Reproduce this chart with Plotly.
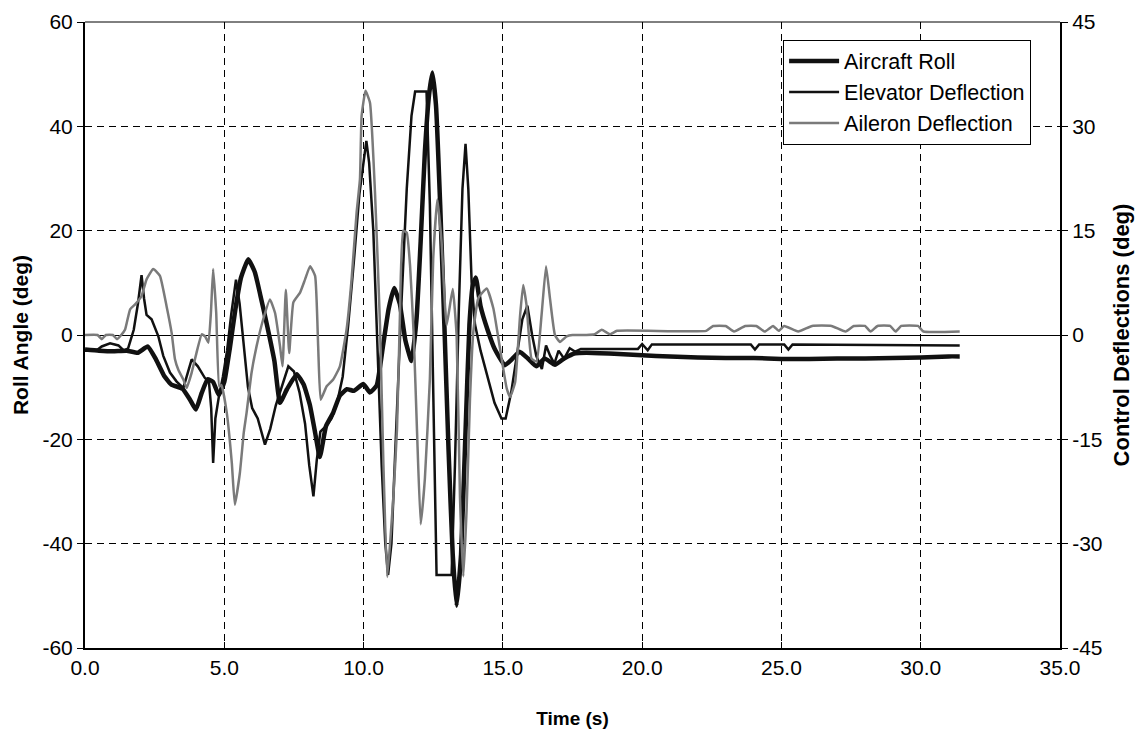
import plotly.graph_objects as go

# ---- Aircraft roll angle (deg, left axis) ----
roll_time = [0.0, 0.5, 1.0, 1.5, 1.9, 2.25, 2.55, 2.85, 3.1, 3.5, 3.77, 3.98, 4.19, 4.4, 4.6,
             4.8, 5.0, 5.2, 5.4, 5.6, 5.86, 6.1, 6.3, 6.55, 6.8, 7.0, 7.25, 7.6, 7.85, 8.08,
             8.26, 8.43, 8.65, 8.9, 9.15, 9.4, 9.65, 9.99, 10.23, 10.47, 10.7, 10.9, 11.1, 11.3,
             11.5, 11.72, 11.9, 12.05, 12.2, 12.35, 12.47, 12.6, 12.75, 12.9, 13.05, 13.2, 13.34,
             13.5, 13.65, 13.8, 13.92, 14.03, 14.2, 14.45, 14.7, 15.07, 15.35, 15.6, 15.9, 16.2,
             16.5, 16.87, 17.2, 17.6, 18.0, 19.0, 20.0, 21.0, 22.0, 23.0, 24.0, 25.0, 26.0, 27.0,
             28.0, 29.0, 30.0, 31.0, 31.4]
roll_deg = [-2.8, -3.0, -3.1, -3.0, -3.4, -2.2, -4.7, -7.9, -9.5, -10.3, -12.4, -14.3, -11.1, -8.5, -9.0,
            -11.5, -9.0, -2.5, 5.0, 11.0, 14.5, 12.0, 7.5, 1.5, -5.0, -13.0, -10.4, -7.5, -9.5, -13.6,
            -18.7, -23.4, -17.5, -15.0, -11.6, -10.4, -10.7, -9.4, -11.0, -9.7, -2.0, 5.0, 9.0, 6.0,
            -1.0, -5.0, 3.0, 18.0, 35.0, 46.0, 50.3, 44.0, 25.0, 2.0, -22.0, -42.0, -51.9,
            -42.0, -20.0, 2.0, 9.5, 11.0, 5.5, 1.0, -2.6, -5.8, -4.5, -3.2, -4.5, -6.0,
            -4.5, -5.7, -4.5, -3.5, -3.4, -3.6, -3.9, -4.1, -4.3, -4.4, -4.4, -4.6, -4.6, -4.5,
            -4.5, -4.4, -4.3, -4.1, -4.1]

# ---- Elevator deflection (deg, right axis) ----
elev_time = [0.0, 0.4, 0.6, 0.9, 1.2, 1.4, 1.55, 1.75, 1.9, 2.03, 2.12, 2.21, 2.39, 2.63, 2.81,
             3.05, 3.29, 3.53, 3.83, 4.05, 4.3, 4.45, 4.53, 4.6, 4.68, 4.8, 4.95, 5.1, 5.25, 5.42,
             5.55, 5.7, 5.85, 6.0, 6.2, 6.46, 6.65, 6.85, 7.05, 7.3, 7.5, 7.7, 7.9, 8.05, 8.2,
             8.32, 8.45, 8.65, 8.85, 9.05, 9.25, 9.45, 9.65, 9.85, 10.1, 10.2, 10.35, 10.5, 10.65,
             10.78, 10.88, 11.0, 11.15, 11.35, 11.55, 11.72, 11.85, 12.26, 12.38, 12.5, 12.58,
             12.62, 13.16, 13.28, 13.42, 13.55, 13.66, 13.76, 13.88, 14.0, 14.2, 14.45, 14.7,
             14.95, 15.1, 15.3, 15.5, 15.7, 15.88, 16.05, 16.2, 16.4, 16.55, 16.7, 16.85, 17.0,
             17.2, 17.4, 17.6, 17.8, 19.85, 20.0, 20.2, 20.35, 23.9, 24.05, 24.2, 25.1, 25.25,
             25.4, 31.4]
elev_deg = [-2.25, -2.25, -1.65, -1.2, -1.5, -2.25, -1.9, 0.75, 4.5, 8.6, 5.25, 2.9, 2.25, -0.15, -3.0,
            -5.4, -6.7, -7.6, -3.5, -4.5, -6.15, -6.75, -10.5, -18.4, -12.0, -9.0, -6.0, -2.25, 3.0, 7.95,
            4.5, -1.5, -7.5, -10.5, -12.0, -15.75, -13.5, -10.1, -7.5, -4.5, -5.25, -8.25, -12.75, -18.75, -23.2,
            -18.0, -13.9, -13.1, -12.0, -9.75, -6.0, 1.5, 10.5, 20.25, 27.9, 24.75, 15.0, -1.5, -18.75,
            -30.0, -34.5, -30.0, -15.0, 3.75, 21.0, 31.5, 35.0, 35.0, 18.75, -7.5, -26.25,
            -34.5, -34.5, -18.75, 3.75, 21.0, 27.5, 21.0, 7.5, 1.5, -2.25, -6.0, -9.75,
            -12.0, -12.0, -8.25, -3.0, 2.25, 4.2, 0.0, -3.0, -4.9, -1.5, -3.0, -4.1, -2.25,
            -3.4, -1.9, -2.4, -2.0, -2.0, -1.3, -2.2, -1.35, -1.35, -2.1, -1.35, -1.35, -2.1,
            -1.35, -1.5]

# ---- Aileron deflection (deg, right axis) ----
ail_time = [0.0, 0.45, 0.6, 0.75, 1.0, 1.15, 1.3, 1.44, 1.62, 1.8, 2.03, 2.21, 2.45, 2.69, 2.93,
            3.11, 3.23, 3.35, 3.53, 3.65, 3.83, 4.0, 4.19, 4.31, 4.43, 4.52, 4.6, 4.71, 4.82, 4.9,
            5.09, 5.27, 5.38, 5.56, 5.7, 5.8, 5.98, 6.16, 6.4, 6.64, 6.82, 7.0, 7.09, 7.21, 7.33,
            7.48, 7.72, 7.9, 8.08, 8.26, 8.37, 8.46, 8.67, 8.91, 9.15, 9.39, 9.57, 9.75, 9.87,
            9.93, 10.07, 10.23, 10.41, 10.59, 10.71, 10.85, 11.07, 11.2, 11.3, 11.42, 11.55, 11.67,
            11.8, 11.92, 12.05, 12.2, 12.38, 12.5, 12.65, 12.8, 12.98, 13.2, 13.34, 13.46, 13.58,
            13.7, 13.82, 13.94, 14.12, 14.42, 14.66, 14.9, 15.14, 15.26, 15.44, 15.62, 15.73,
            15.85, 16.03, 16.21, 16.39, 16.55, 16.69, 16.87, 17.05, 17.29, 17.5, 18.0, 18.3,
            18.55, 18.85, 19.1, 22.3, 22.55, 23.0, 23.3, 23.7, 24.1, 24.4, 24.7, 24.9, 25.1,
            25.6, 26.1, 26.8, 27.3, 27.6, 28.0, 28.2, 28.45, 28.9, 29.1, 29.3, 29.9, 30.1, 31.4]
ail_deg = [0.0, 0.0, -0.6, 0.0, 0.0, -0.6, 0.0, 0.8, 3.7, 4.4, 5.6, 8.0, 9.5, 8.5, 4.1,
           0.3, -3.5, -5.0, -6.4, -7.6, -5.4, -2.6, 0.1, -0.2, -1.1, 3.2, 9.5, 3.2, -7.4, -7.2,
           -11.2, -18.4, -24.4, -19.8, -14.0, -11.2, -5.4, -1.6, 2.3, 5.1, 3.2, -1.6, -4.5, 6.5, -2.6,
           4.7, 6.1, 8.0, 9.9, 8.5, -1.6, -9.3, -7.4, -6.4, -4.5, 0.8, 8.0, 17.6, 22.4,
           31.5, 35.1, 33.4, 20.5, 1.4, -18.3, -34.8, -23.2, -13.5, 2.0, 15.0, 14.7, 9.9,
           0.0, -14.0, -27.2, -20.7, -6.3, 11.0, 19.5, 13.4, 1.4, 6.6, 0.0, -23.2, -34.7,
           -25.0, -9.2, 0.5, 5.3, 6.7, 3.8, -2.0, -7.7, -8.9, -6.8, 2.9, 7.2,
           4.3, -3.4, -3.8, 2.9, 9.9, 5.3, 0.0, -1.0, -0.2, 0.0, 0.0, 0.1,
           0.75, 0.1, 0.6, 0.6, 1.3, 1.3, 0.5, 1.3, 1.3, 0.5, 1.3, 0.6, 1.3,
           0.5, 1.3, 1.3, 0.5, 1.3, 1.3, 0.5, 1.3, 1.3, 0.5, 1.3, 1.3, 0.5, 0.5]

# ---- Axis ticks ----
time_ticks = [0, 5, 10, 15, 20, 25, 30, 35]
time_labels = ["0.0", "5.0", "10.0", "15.0", "20.0", "25.0", "30.0", "35.0"]
roll_ticks = [-60, -40, -20, 0, 20, 40, 60]
roll_labels = ["-60", "-40", "-20", "0", "20", "40", "60"]
defl_ticks = [-45, -30, -15, 0, 15, 30, 45]
defl_labels = ["-45", "-30", "-15", "0", "15", "30", "45"]

assert len(roll_time) == len(roll_deg)
assert len(elev_time) == len(elev_deg)
assert len(ail_time) == len(ail_deg)

FONT = "Liberation Sans, Arial, sans-serif"

fig = go.Figure()

fig.add_trace(go.Scatter(
    x=roll_time, y=roll_deg, name="Aircraft Roll", mode="lines",
    line=dict(color="#111111", width=4.5, shape="spline", smoothing=0.4),
    legendrank=1, yaxis="y"))
fig.add_trace(go.Scatter(
    x=elev_time, y=elev_deg, name="Elevator Deflection", mode="lines",
    line=dict(color="#111111", width=2.5),
    legendrank=2, yaxis="y2"))
fig.add_trace(go.Scatter(
    x=ail_time, y=ail_deg, name="Aileron Deflection", mode="lines",
    line=dict(color="#7a7a7a", width=2.5, shape="spline", smoothing=0.4),
    legendrank=3, yaxis="y2"))

fig.update_layout(
    width=1140, height=732,
    margin=dict(l=85, r=80, t=22, b=84),
    paper_bgcolor="white", plot_bgcolor="white",
    font=dict(family=FONT, size=18, color="black"),
    showlegend=True,
    legend=dict(
        x=0.716, y=0.972, xanchor="left", yanchor="top",
        bgcolor="white", bordercolor="black", borderwidth=1,
        font=dict(family=FONT, size=21.5, color="black"),
        itemwidth=50, tracegroupgap=0,
    ),
    xaxis=dict(
        range=[0, 35], tickmode="array", tickvals=time_ticks, ticktext=time_labels,
        ticks="inside", ticklen=6, tickcolor="black",
        showline=True, linecolor="black", linewidth=2,
        showgrid=True, gridcolor="black", gridwidth=1, griddash="7px,5px",
        zeroline=False, automargin=False,
        tickfont=dict(family=FONT, size=21),
        title=dict(text="<b>Time (s)</b>", font=dict(family=FONT, size=19), standoff=33),
    ),
    yaxis=dict(
        range=[-60, 60], tickmode="array", tickvals=roll_ticks, ticktext=roll_labels,
        ticks="outside", ticklen=6, tickcolor="black",
        showline=True, linecolor="black", linewidth=2,
        showgrid=True, gridcolor="black", gridwidth=1, griddash="7px,5px",
        zeroline=True, zerolinecolor="black", zerolinewidth=1, automargin=False,
        tickfont=dict(family=FONT, size=21),
        title=dict(text="<b>Roll Angle (deg)</b>", font=dict(family=FONT, size=21), standoff=8),
    ),
    yaxis2=dict(
        range=[-45, 45], tickmode="array", tickvals=defl_ticks, ticktext=defl_labels,
        overlaying="y", side="right",
        ticks="outside", ticklen=6, tickcolor="black",
        showline=True, linecolor="black", linewidth=2,
        showgrid=False, zeroline=False, automargin=False,
        tickfont=dict(family=FONT, size=21),
        title=dict(text="<b>Control Deflections (deg)</b>", font=dict(family=FONT, size=22), standoff=12),
    ),
    shapes=[dict(type="line", xref="paper", yref="paper", x0=0, x1=1, y0=1, y1=1,
                 line=dict(color="black", width=1))],
)

fig.write_html("out.html")
